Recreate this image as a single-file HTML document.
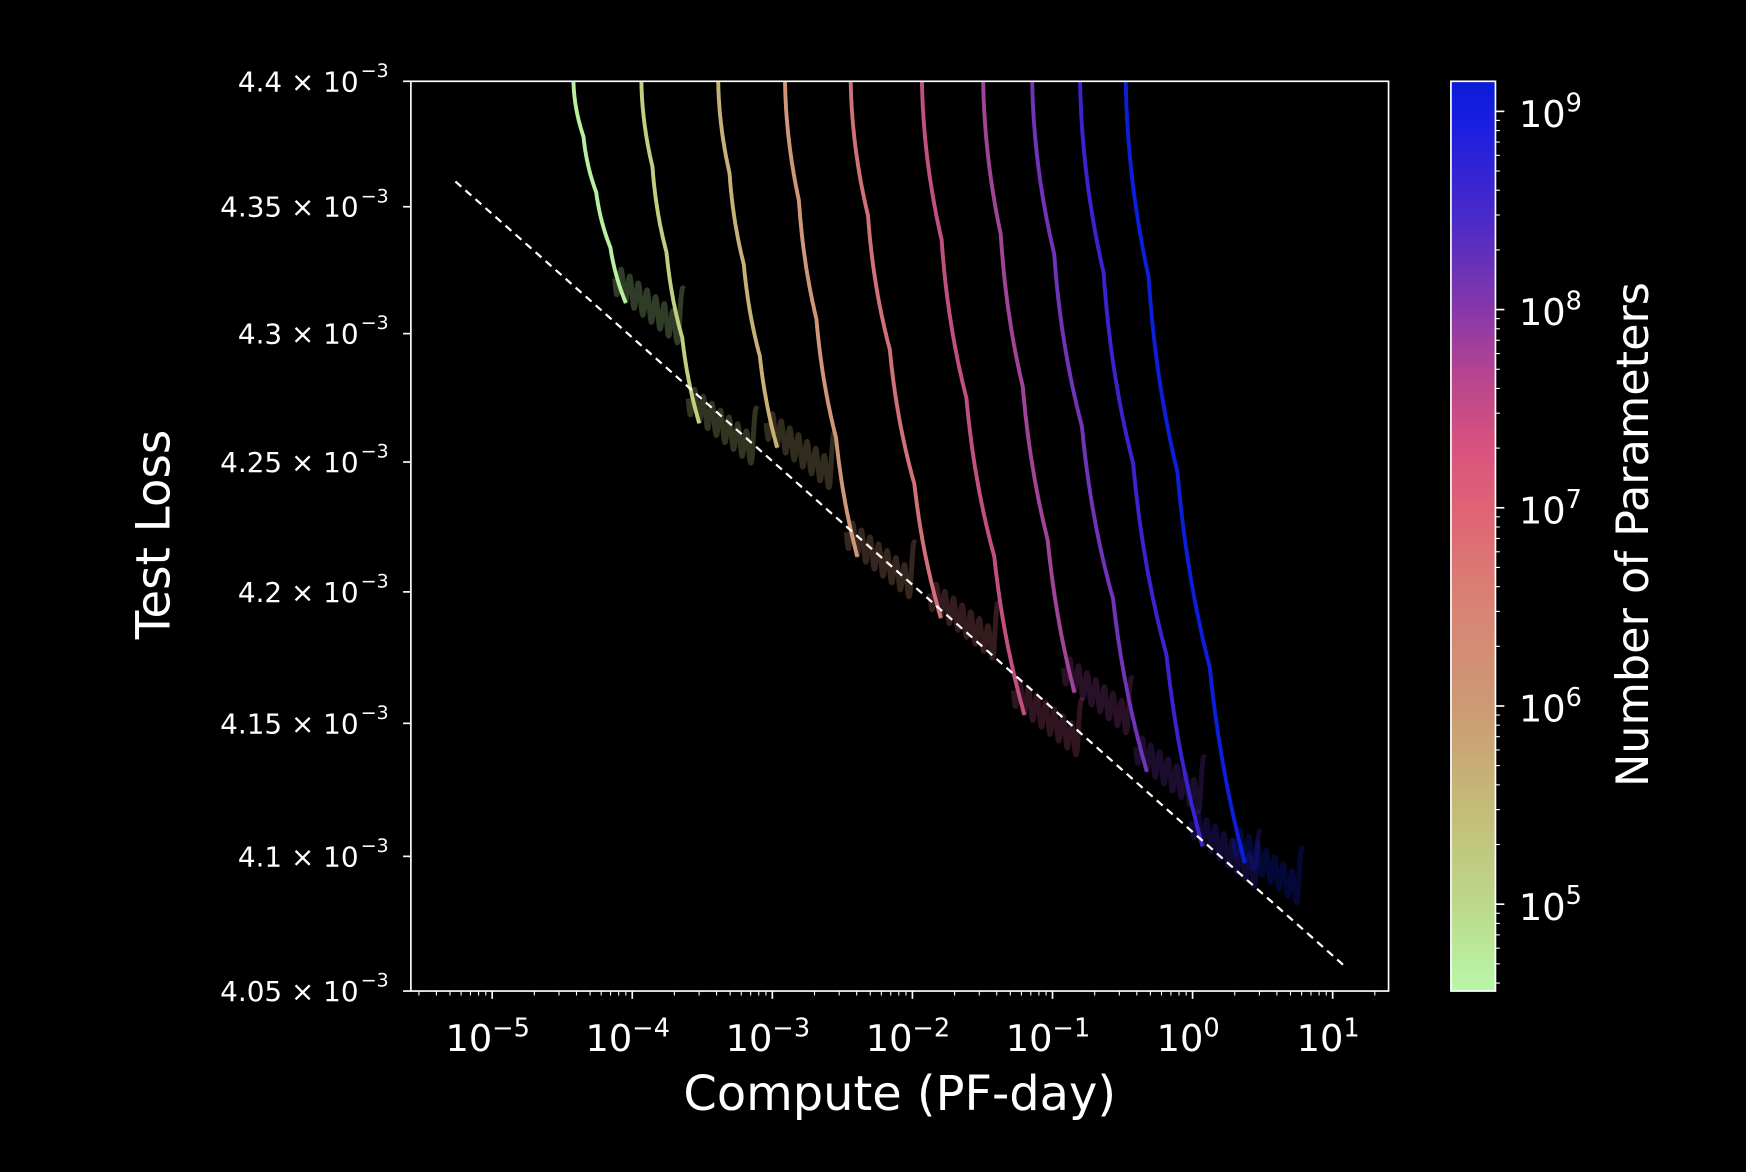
<!DOCTYPE html>
<html><head><meta charset="utf-8"><style>
html,body{margin:0;padding:0;background:#000;}
svg{display:block}
text{font-family:"DejaVu Sans","Liberation Sans",sans-serif;fill:#fff}
</style></head><body>
<svg id="s" width="1746" height="1172" viewBox="0 0 1568 1052.5" xmlns="http://www.w3.org/2000/svg">
<defs>
<linearGradient id="cb" x1="0" y1="1" x2="0" y2="0">
<stop offset="0" stop-color="#b8f8a8"/>
<stop offset="0.095" stop-color="#bcd88a"/>
<stop offset="0.2" stop-color="#c4bc78"/>
<stop offset="0.31" stop-color="#cc9a74"/>
<stop offset="0.42" stop-color="#d88474"/>
<stop offset="0.526" stop-color="#e06474"/>
<stop offset="0.6" stop-color="#d85280"/>
<stop offset="0.68" stop-color="#b44490"/>
<stop offset="0.744" stop-color="#8a38a8"/>
<stop offset="0.85" stop-color="#4a2ac8"/>
<stop offset="0.95" stop-color="#1c1ee0"/>
<stop offset="1" stop-color="#0a1cd8"/>
</linearGradient>
<clipPath id="pc"><rect x="369" y="73" width="878" height="817"/></clipPath>
</defs>
<rect x="0" y="0" width="1568" height="1052.5" fill="#000"/>
<g id="curves" clip-path="url(#pc)"></g>
<line x1="409" y1="163" x2="1208" y2="868" stroke="#fff" stroke-width="2" stroke-dasharray="7,5"/>
<rect x="369" y="73" width="878" height="817" fill="none" stroke="#fff" stroke-width="1.5"/>
<g id="ticks"></g>
<rect x="1303" y="73" width="40" height="817" fill="url(#cb)" stroke="#fff" stroke-width="1.5"/>
<text x="808" y="997" font-size="43" text-anchor="middle">Compute (PF-day)</text>
<text transform="translate(152,480) rotate(-90)" font-size="42" text-anchor="middle">Test Loss</text>
<text transform="translate(1480,480) rotate(-90)" font-size="40" text-anchor="middle">Number of Parameters</text>
</svg>
<script>
var NS="http://www.w3.org/2000/svg";
function el(p,n,a,t){var e=document.createElementNS(NS,n);for(var k in a)e.setAttribute(k,a[k]);if(t!==undefined)e.innerHTML=t;p.appendChild(e);return e;}
var tk=document.getElementById('ticks');
var X0=442,DX=125.8;
for(var d=-6;d<=1;d++){for(var m=1;m<10;m++){var x=X0+(d+5+Math.log10(m))*DX;if(x<370||x>1246)continue;
 el(tk,'line',{x1:x,y1:890,x2:x,y2:890+(m==1?7:4),stroke:'#fff','stroke-width':m==1?1.5:1});}}
for(var d=-5;d<=1;d++){var x=X0+(d+5)*DX;el(tk,'text',{x:x-4,y:944,'font-size':33,'text-anchor':'middle'},'10<tspan dy="-13" font-size="23">'+(d<0?'\u2212'+(-d):d)+'</tspan>');}
var L0=Math.log10(4.4),L1=Math.log10(4.05);
function Y(v){return 73+(L0-Math.log10(v))/(L0-L1)*817;}
['4.4','4.35','4.3','4.25','4.2','4.15','4.1','4.05'].forEach(function(s){var y=Y(parseFloat(s));
 el(tk,'line',{x1:362,y1:y,x2:369,y2:y,stroke:'#fff','stroke-width':1.5});
 el(tk,'text',{x:322,y:y+9,'font-size':25,'text-anchor':'end'},s+' \u00d7 10');
 el(tk,'text',{x:324,y:y-4,'font-size':17,'text-anchor':'start'},'\u22123');});
var C9=100,CD=178;
for(var d=4;d<=9;d++){for(var m=1;m<10;m++){var y=C9-(d-9+Math.log10(m))*CD;if(y<74||y>889)continue;
 el(tk,'line',{x1:1343,y1:y,x2:1343+(m==1?8:4),y2:y,stroke:'#fff','stroke-width':m==1?1.5:1});}}
for(var d=5;d<=9;d++){var y=C9-(d-9)*CD;el(tk,'text',{x:1364,y:y+14,'font-size':33},'10<tspan dy="-14" font-size="23">'+d+'</tspan>');}
var cols=['#b8f0a0','#c0d080','#c8b078','#d09678','#d07078','#c05080','#a04498','#7034b8','#3a24d0','#0c1ed8'];
var P=[[515,562,272],[576,628,380],[645,698,402],[705,770,500],[764,845,555],[828,920,642],[883,965,622],[927,1030,693],[970,1080,760],[1011,1118,775]];
var g=document.getElementById('curves');
function step(t,n){var s=t*n,k=Math.floor(s),r=s-k;return (k+Math.pow(r,2.2))/n;}
P.forEach(function(p,i){
 var x0=p[0],x1=p[1],y1=p[2],pts=[];
 for(var k=0;k<=300;k++){var t=k/300;var y=73+(y1-73)*t;
  var f=0.55*Math.pow(t,1.4)+0.45*step(t,4);
  pts.push((x0+(x1-x0)*f).toFixed(1)+','+y.toFixed(1));}
 var tp=[];var len=62;
 for(var k=0;k<=160;k++){var t=k/160;var x=x1-10+len*t;var y=y1-22+(len*t)*0.8+13*Math.sin(t*Math.PI*2*8);
  if(t>0.93)y-=(t-0.93)/0.07*40;
  tp.push(x.toFixed(1)+','+y.toFixed(1));}
 el(g,'polyline',{points:tp.join(' '),fill:'none',stroke:cols[i],'stroke-opacity':0.25,'stroke-width':4.5,'stroke-linejoin':'round'});
 el(g,'polyline',{points:pts.join(' '),fill:'none',stroke:cols[i],'stroke-width':3.5,'stroke-linejoin':'round'});
});
</script>
</body></html>
